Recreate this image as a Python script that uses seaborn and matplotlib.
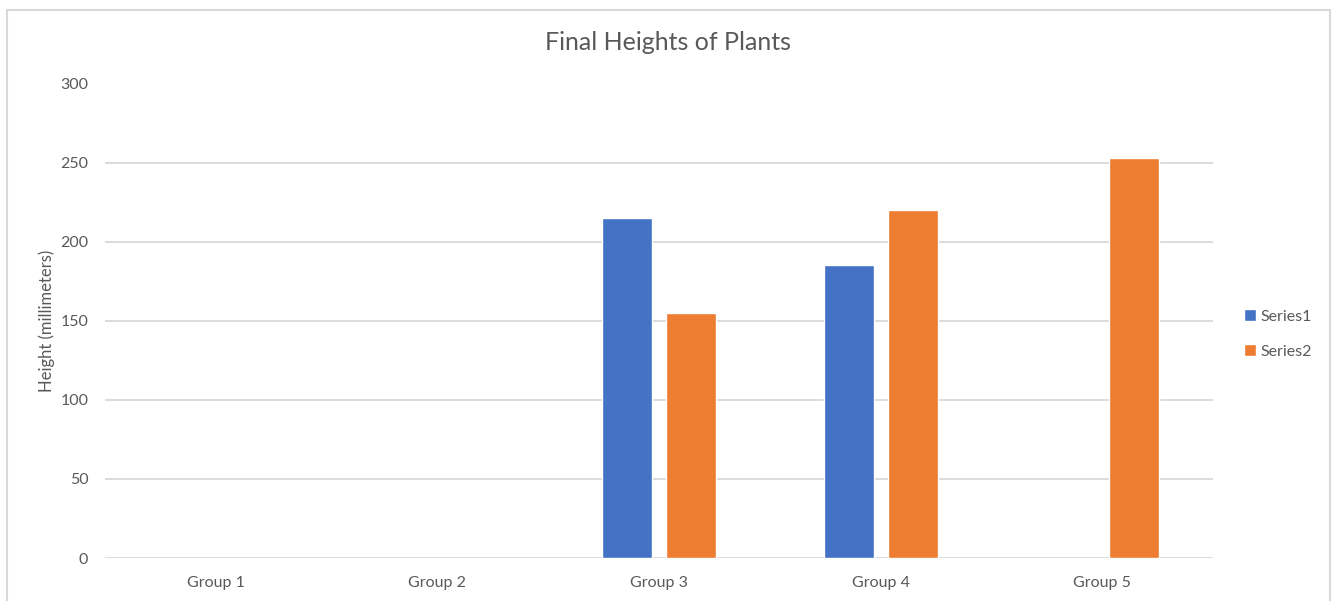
import pandas as pd
import numpy as np
import matplotlib
matplotlib.use("Agg")
import matplotlib.pyplot as plt
from matplotlib.patches import Rectangle
import seaborn as sns

# Data
groups = ["Group 1", "Group 2", "Group 3", "Group 4", "Group 5"]
series1 = [np.nan, np.nan, 215, 185, np.nan]
series2 = [np.nan, np.nan, 155, 220, 253]
series_names = ["Series1", "Series2"]
yticks = [0, 50, 100, 150, 200, 250, 300]

GRID = "#d9d9d9"
TEXT = "#595959"
COLORS = ["#4472C4", "#ED7D31"]


def main():
    sns.set_theme(style="white")
    plt.rcParams["font.family"] = ["Lato", "DejaVu Sans"]

    df = pd.DataFrame({
        "group": groups * 2,
        "series": [series_names[0]] * len(groups) + [series_names[1]] * len(groups),
        "height": series1 + series2,
    })

    fig = plt.figure(figsize=(13.39, 6.01), dpi=100)
    ax = fig.add_axes([105 / 1339, 1 - 558 / 601, (1213 - 105) / 1339, (558 - 83.5) / 601])

    sns.barplot(data=df, x="group", y="height", hue="series", order=groups,
                hue_order=series_names, palette=COLORS, width=0.578, gap=0.22,
                saturation=1, errorbar=None, ax=ax)

    ax.set_ylim(0, 300)
    ax.set_xlim(-0.5, len(groups) - 0.5)
    ax.set_yticks(yticks)
    ax.yaxis.grid(True, color=GRID, linewidth=1.3)
    ax.set_axisbelow(True)
    for s in ax.spines.values():
        s.set_visible(False)
    ax.tick_params(axis="both", length=0, colors=TEXT, labelsize=11.5)
    ax.tick_params(axis="y", pad=12)
    ax.tick_params(axis="x", pad=13)
    ax.set_xlabel("")
    ax.set_ylabel("Height (millimeters)", color=TEXT, fontsize=12, labelpad=4)

    fig.text(668 / 1339, 1 - 42 / 601, "Final Heights of Plants", ha="center", va="center",
             fontsize=18, color=TEXT)

    handles, labels = ax.get_legend_handles_labels()
    ax.legend(handles, labels, loc="center left", bbox_to_anchor=(1230 / 1339, 1 - 334 / 601),
              bbox_transform=fig.transFigure, frameon=False, fontsize=11.5,
              handlelength=0.7, handleheight=0.7, handletextpad=0.3, labelspacing=1.3,
              labelcolor=TEXT)

    # outer chart frame
    fig.patches.append(Rectangle((7 / 1339, -0.05), (1330 - 7) / 1339, 1 - 10 / 601 + 0.05,
                                 transform=fig.transFigure, fill=False,
                                 edgecolor=GRID, linewidth=1.5))

    fig.savefig("out.png", dpi=100)
    plt.close(fig)


if __name__ == "__main__":
    main()
